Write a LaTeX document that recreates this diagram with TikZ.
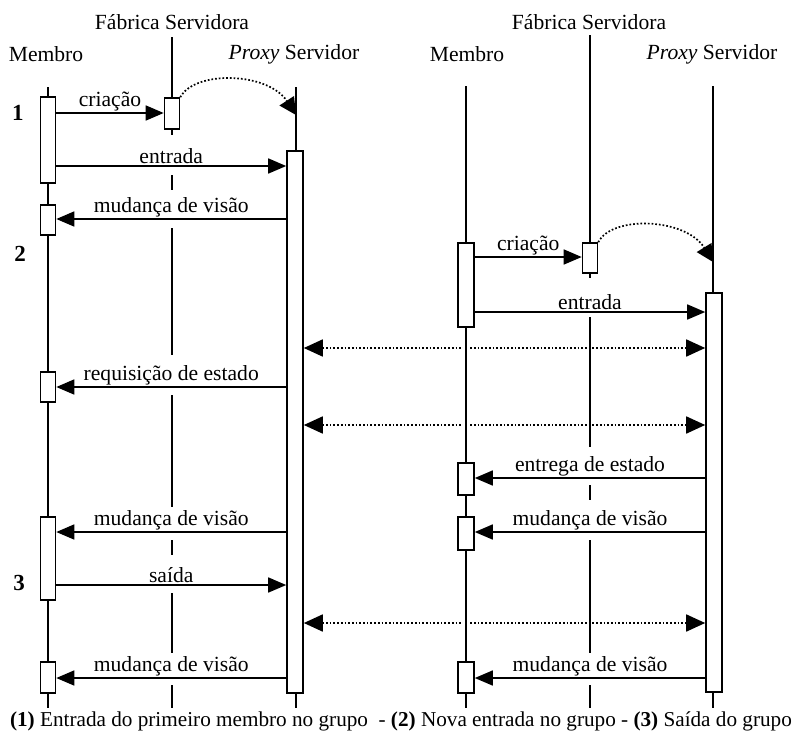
\documentclass[tikz,border=0pt]{standalone}
\usepackage{fontspec}
\setmainfont{Liberation Serif}
\usetikzlibrary{arrows.meta}
\pgfdeclarelayer{back}
\pgfsetlayers{back,main}
\begin{document}
\begin{tikzpicture}[x=1pt,y=-1pt,
  font=\fontsize{21.6pt}{25pt}\selectfont,
  life/.style={line width=1.6pt},
  actbox/.style={draw, fill=white, line width=1.6pt, minimum width=15pt, inner sep=0pt},
  msg/.style={line width=1.6pt, -{Triangle[length=18pt,width=15pt]}},
  lab/.style={above, inner sep=1.5pt},
  dotmsg/.style={line width=1.7pt, dotted, {Triangle[length=19pt,width=17pt]}-{Triangle[length=19pt,width=17pt]}},
  dotcurve/.style={line width=1.7pt, dotted, -{Triangle[length=17pt,width=17pt]}},
  head/.style={inner sep=0pt},
  num/.style={inner sep=0pt, font=\fontsize{23pt}{26pt}\selectfont\bfseries}]
\useasboundingbox (0,0) rectangle (803,742);

% headers
\node[head] (hfA) at (172,22) {Fábrica Servidora};
\node[head] (hmA) at (46,54) {Membro};
\node[head] (hpA) at (294,54) {\textit{Proxy} Servidor};
\node[head] (hfB) at (589,22) {Fábrica Servidora};
\node[head] (hmB) at (467,54) {Membro};
\node[head] (hpB) at (712,54) {\textit{Proxy} Servidor};

% step numbers
\node[num] (n1) at (18,113) {1};
\node[num] (n2) at (20,254) {2};
\node[num] (n3) at (19,583) {3};

% lifelines (left)
\draw[life] (48,87) -- (48,708);
\draw[life] (296,87) -- (296,708);
% lifelines (right)
\draw[life, preaction={draw=white, line width=7pt}] (466,86) -- (466,708);
\draw[life] (713,86) -- (713,708);

% activation boxes (left)
\node[actbox, minimum height=86pt] (mA1) at (48,140) {};
\node[actbox, minimum height=30pt] (mA2) at (48,220) {};
\node[actbox, minimum height=30pt] (mA3) at (48,387) {};
\node[actbox, minimum height=83pt] (mA4) at (48,558.5) {};
\node[actbox, minimum height=31pt] (mA5) at (48,677.5) {};
\node[actbox, minimum height=31pt] (fA) at (172,113.5) {};
\node[actbox, minimum width=16pt, minimum height=542pt] (pA) at (295,422) {};

% activation boxes (right)
\node[actbox, minimum width=16pt, minimum height=84pt] (mB1) at (466,285) {};
\node[actbox, minimum height=30pt] (fB) at (590,258) {};
\node[actbox, minimum width=16pt, minimum height=399pt] (pB) at (714,492.5) {};
\node[actbox, minimum width=16pt, minimum height=32pt] (mB2) at (466,479) {};
\node[actbox, minimum width=16pt, minimum height=33pt] (mB3) at (466,533.5) {};
\node[actbox, minimum width=16pt, minimum height=31pt] (mB4) at (466,677.5) {};

% Fabrica lifelines with gaps (left)
\draw[life] (172,37) -- (fA.north);
\draw[life] (fA.south) -- (172,135);
\draw[life] (172,175) -- (172,190);
\draw[life] (172,228) -- (172,355);
\draw[life] (172,395) -- (172,507);
\draw[life] (172,540) -- (172,555);
\draw[life] (172,593) -- (172,653);
\draw[life] (172,685) -- (172,708);
% Fabrica lifelines with gaps (right)
\draw[life] (590,35) -- (fB.north);
\draw[life] (fB.south) -- (590,278);
\draw[life] (590,317) -- (590,447);
\draw[life] (590,485) -- (590,500);
\draw[life] (590,540) -- (590,653);
\draw[life] (590,685) -- (590,708);

% messages (left)
\draw[msg] (mA1.east |- 0,113) -- node[lab] {criação} (fA.west |- 0,113);
\draw[msg] (mA1.east |- 0,166) -- node[lab] {entrada} (pA.west |- 0,166);
\draw[msg] (pA.west |- 0,219) -- node[lab] {mudança de visão} (mA2.east |- 0,219);
\draw[msg] (pA.west |- 0,387) -- node[lab] {requisição de estado} (mA3.east |- 0,387);
\draw[msg] (pA.west |- 0,532) -- node[lab] {mudança de visão} (mA4.east |- 0,532);
\draw[msg] (mA4.east |- 0,585) -- node[lab] {saída} (pA.west |- 0,585);
\draw[msg] (pA.west |- 0,678) -- node[lab] {mudança de visão} (mA5.east |- 0,678);

% messages (right)
\draw[msg] (mB1.east |- 0,257) -- node[lab] {criação} (fB.west |- 0,257);
\draw[msg] (mB1.east |- 0,312) -- node[lab] {entrada} (pB.west |- 0,312);
\draw[msg] (pB.west |- 0,478) -- node[lab] {entrega de estado} (mB2.east |- 0,478);
\draw[msg] (pB.west |- 0,532) -- node[lab] {mudança de visão} (mB3.east |- 0,532);
\draw[msg] (pB.west |- 0,678) -- node[lab] {mudança de visão} (mB4.east |- 0,678);

% creation curves
\coordinate (tA) at (296,115);
\coordinate (tB) at (713,262);
\draw[dotcurve] (fA.north east) .. controls (195,70) and (268,72) .. (tA);
\draw[dotcurve] (fB.north east) .. controls (612,215) and (686,218) .. (tB);

% dotted exchanges between proxies (behind lifelines)
\begin{pgfonlayer}{back}
\draw[dotmsg] (pA.east |- 0,348) -- (pB.west |- 0,348);
\draw[dotmsg] (pA.east |- 0,425) -- (pB.west |- 0,425);
\draw[dotmsg] (pA.east |- 0,623) -- (pB.west |- 0,623);
\end{pgfonlayer}

% caption
\node[inner sep=0pt, font=\fontsize{21.2pt}{25pt}\selectfont] (cap) at (401,721) {\textbf{(1)} Entrada do primeiro membro no grupo \ - \textbf{(2)} Nova entrada no grupo - \textbf{(3)} Saída do grupo};
\end{tikzpicture}
\end{document}
